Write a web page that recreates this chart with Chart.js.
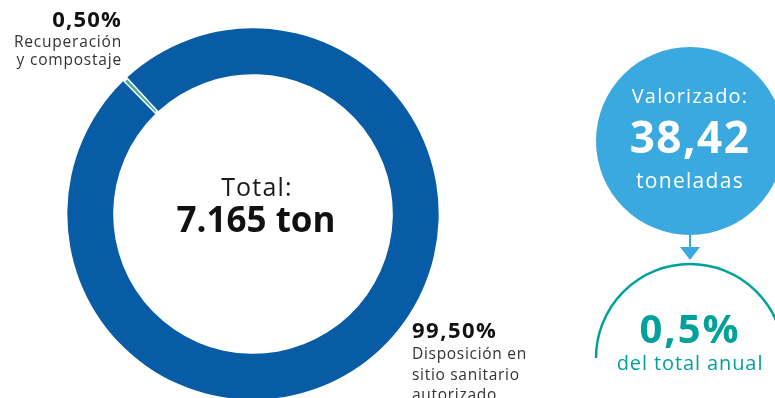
<!DOCTYPE html>
<html lang="es">
<head>
<meta charset="utf-8">
<script src="https://cdn.jsdelivr.net/npm/chart.js@4.4.1/dist/chart.umd.min.js"></script>
<style>
  html, body { margin: 0; padding: 0; background: #fff; overflow: hidden; }
  #wrap { position: relative; width: 775px; height: 430px; }
</style>
</head>
<body>
<div id="wrap"><canvas id="chartResiduos"></canvas></div>
<script>
const categorias = ['Recuperación y compostaje', 'Disposición en sitio sanitario autorizado'];
const porcentajes = [0.50, 99.50];
const etiquetasPorcentaje = ['0,50%', '99,50%'];
const totalToneladas = '7.165 ton';
const valorizadoToneladas = '38,42';
const valorizadoPorcentaje = '0,5%';
const colores = ['#45a99c', '#085ca6'];

const FUENTE = '"Open Sans", sans-serif';
const AZUL_CLARO = '#3aa9e0';
const TURQUESA = '#00a19a';

function texto(ctx, str, x, y, size, weight, color, align, spacing) {
    ctx.font = weight + ' ' + size + 'px ' + FUENTE;
    ctx.fillStyle = color;
    ctx.textAlign = align || 'left';
    ctx.textBaseline = 'alphabetic';
    ctx.letterSpacing = (spacing || 0) + 'px';
    ctx.fillText(str, x, y);
}

// textos del centro, etiquetas de los segmentos y el bloque de valorizado
const rotulos = {
    id: 'rotulos',
    afterDraw(chart) {
        const ctx = chart.ctx;
        const arc = chart.getDatasetMeta(0).data[0];
        const cx = arc.x, cy = arc.y;
        ctx.save();

        texto(ctx, 'Total:', cx + 4, cy - 18, 25, 400, '#1a1a1a', 'center', 1.2);
        texto(ctx, totalToneladas, cx + 3, cy + 18, 35, 700, '#111', 'center', 0);

        texto(ctx, etiquetasPorcentaje[0], 122, 27, 22, 700, '#111', 'right', 1.2);
        texto(ctx, 'Recuperación', 122, 47, 15.5, 400, '#333', 'right', 0.8);
        texto(ctx, 'y compostaje', 122, 65, 15.5, 400, '#333', 'right', 0.8);

        texto(ctx, etiquetasPorcentaje[1], 412, 338, 22, 700, '#111', 'left', 1.5);
        texto(ctx, 'Disposición en', 412, 359, 15.5, 400, '#333', 'left', 0.7);
        texto(ctx, 'sitio sanitario', 412, 380, 15.5, 400, '#333', 'left', 0.7);
        texto(ctx, 'autorizado', 412, 400, 15.5, 400, '#333', 'left', 0.7);

        // círculo de valorizado
        ctx.fillStyle = AZUL_CLARO;
        ctx.beginPath();
        ctx.arc(690, 141, 94, 0, Math.PI * 2);
        ctx.fill();
        texto(ctx, 'Valorizado:', 690, 103, 20, 400, '#fff', 'center', 1.2);
        texto(ctx, valorizadoToneladas, 690, 153, 44, 700, '#fff', 'center', 1.5);
        texto(ctx, 'toneladas', 690, 188, 21, 400, '#fff', 'center', 1.3);

        // flecha
        ctx.strokeStyle = AZUL_CLARO;
        ctx.fillStyle = AZUL_CLARO;
        ctx.lineWidth = 2;
        ctx.beginPath();
        ctx.moveTo(690, 234);
        ctx.lineTo(690, 249);
        ctx.stroke();
        ctx.beginPath();
        ctx.moveTo(680, 247);
        ctx.lineTo(700, 247);
        ctx.lineTo(690, 260);
        ctx.closePath();
        ctx.fill();

        // semicírculo del porcentaje anual
        ctx.strokeStyle = TURQUESA;
        ctx.lineWidth = 2.5;
        ctx.beginPath();
        ctx.arc(690, 358, 94, Math.PI, Math.PI * 2);
        ctx.stroke();
        texto(ctx, valorizadoPorcentaje, 690, 343, 40, 700, TURQUESA, 'center', 2);
        texto(ctx, 'del total anual', 690, 370, 20, 400, TURQUESA, 'center', 0.9);

        ctx.restore();
    }
};

new Chart(document.getElementById('chartResiduos'), {
    type: 'doughnut',
    data: {
        labels: categorias,
        datasets: [{
            data: porcentajes,
            backgroundColor: colores,
            borderColor: '#fff',
            borderWidth: [1.5, 0],
            borderAlign: 'inner'
        }]
    },
    options: {
        responsive: true,
        maintainAspectRatio: false,
        animation: false,
        cutout: '75%',
        rotation: -44.4,
        layout: { padding: { left: 67, right: 336, top: 28, bottom: 30 } },
        plugins: {
            legend: { display: false },
            tooltip: { enabled: false }
        }
    },
    plugins: [rotulos]
});
</script>
</body>
</html>
